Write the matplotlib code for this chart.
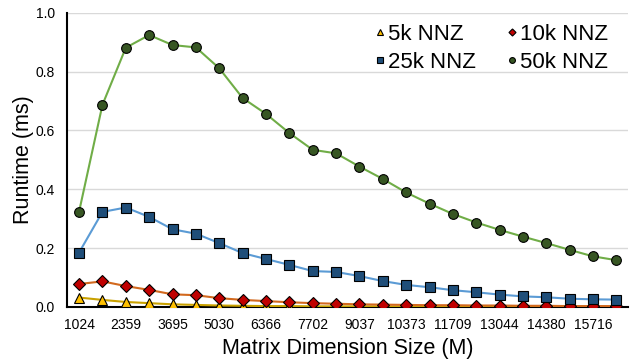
import matplotlib.pyplot as plt
import numpy as np

plt.rcParams['font.family'] = ['Liberation Sans', 'DejaVu Sans']

# Matrix sizes (24 points, labels shown every other one)
sizes = [1024, 1691, 2359, 3027, 3695, 4363, 5030, 5698, 6366, 7034, 7702, 8370,
         9037, 9705, 10373, 11041, 11709, 12377, 13044, 13712, 14380, 15048, 15716, 16384]

nnz_5k = [0.032, 0.024, 0.017, 0.013, 0.009, 0.007, 0.005, 0.004, 0.003, 0.003, 0.002, 0.002,
          0.002, 0.002, 0.001, 0.001, 0.001, 0.001, 0.001, 0.001, 0.001, 0.001, 0.001, 0.001]
nnz_10k = [0.078, 0.087, 0.071, 0.058, 0.043, 0.040, 0.030, 0.024, 0.020, 0.016, 0.013, 0.011,
           0.009, 0.008, 0.007, 0.006, 0.006, 0.005, 0.005, 0.004, 0.004, 0.003, 0.003, 0.003]
nnz_25k = [0.185, 0.323, 0.338, 0.306, 0.264, 0.249, 0.217, 0.183, 0.163, 0.143, 0.122, 0.119,
           0.105, 0.088, 0.075, 0.067, 0.057, 0.050, 0.042, 0.036, 0.033, 0.028, 0.026, 0.025]
nnz_50k = [0.324, 0.687, 0.881, 0.924, 0.890, 0.882, 0.811, 0.710, 0.656, 0.591, 0.534, 0.522,
           0.477, 0.435, 0.389, 0.351, 0.316, 0.287, 0.262, 0.239, 0.217, 0.194, 0.172, 0.159]

series = [
    ("5k NNZ", nnz_5k, "^", "#C9A100", "#FFC000"),
    ("10k NNZ", nnz_10k, "D", "#D2691E", "#C00000"),
    ("25k NNZ", nnz_25k, "s", "#5B9BD5", "#1F4E79"),
    ("50k NNZ", nnz_50k, "o", "#70AD47", "#375623"),
]

fig = plt.figure(figsize=(6.3, 3.62), dpi=100)
ax = fig.add_axes([0.107, 0.152, 0.89, 0.813])

x = np.arange(len(sizes))
handles = {}
for label, vals, mk, lc, fc in series:
    ms = 7 if mk != "D" else 6
    line, = ax.plot(x, vals, color=lc, lw=1.5, marker=mk, markersize=ms,
                    markerfacecolor=fc, markeredgecolor="black", markeredgewidth=0.8,
                    label=label, zorder=3)
    handles[label] = line

ax.set_xlim(-0.5, len(sizes) - 0.5)
ax.set_ylim(0, 1.0)
ax.set_yticks(np.arange(0, 1.01, 0.2))
ax.set_yticklabels([f"{v:.1f}" for v in np.arange(0, 1.01, 0.2)], fontsize=10)
ax.set_xticks(x[::2])
ax.set_xticklabels([str(s) for s in sizes[::2]], fontsize=10)
ax.tick_params(axis="x", length=0, pad=8)
ax.tick_params(axis="y", length=0, pad=9)
ax.grid(axis="y", color="#D9D9D9", lw=1)
ax.set_axisbelow(True)
for sp in ["top", "right"]:
    ax.spines[sp].set_visible(False)
ax.spines["left"].set_linewidth(1.5)
ax.spines["bottom"].set_linewidth(1.5)

ax.set_xlabel("Matrix Dimension Size (M)", fontsize=15.5, labelpad=4)
ax.set_ylabel("Runtime (ms)", fontsize=15.5, labelpad=1)

# legend filled row by row: 5k, 10k / 25k, 50k
order = ["5k NNZ", "25k NNZ", "10k NNZ", "50k NNZ"]
leg = ax.legend([handles[k] for k in order], order, ncol=2, loc="upper right",
                bbox_to_anchor=(1.0, 1.03), frameon=False,
                fontsize=16, markerscale=0.6, handlelength=0.5, handletextpad=0.1,
                columnspacing=1.4, labelspacing=0.3)
for h in leg.legend_handles:
    h.set_linestyle("none")

fig.savefig("out.png", dpi=100)
